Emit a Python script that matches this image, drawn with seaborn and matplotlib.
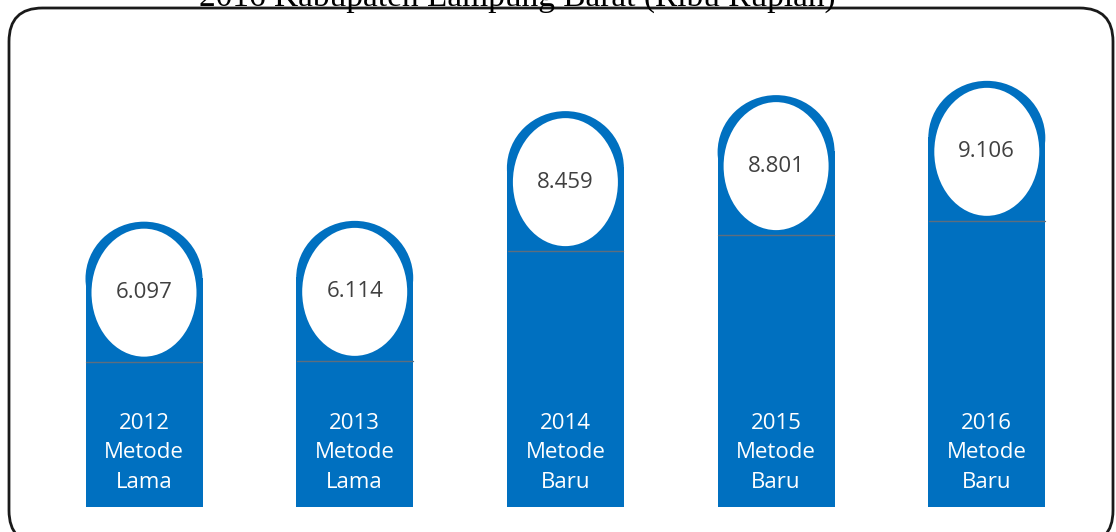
import numpy as np
import pandas as pd
import matplotlib
matplotlib.use("Agg")
import matplotlib.pyplot as plt
import seaborn as sns
from matplotlib.patches import Ellipse, FancyBboxPatch

# data
tahun = ["2012", "2013", "2014", "2015", "2016"]
metode = ["Lama", "Lama", "Baru", "Baru", "Baru"]
nilai = [6.097, 6.114, 8.459, 8.801, 9.106]
judul = "2016 Kabupaten Lampung Barat (Ribu Rupiah)"

BIRU = "#0070C0"

df = pd.DataFrame({"tahun": tahun, "nilai": nilai})

sns.set_style("white")
fig = plt.figure(figsize=(11.16, 5.32), dpi=100)
ax = fig.add_axes([0, 0, 1, 1])

# pixel scale helpers (axes covers whole figure)
px_x = 210.7   # px per category
px_y = 46.8    # px per unit value

sns.barplot(data=df, x="tahun", y="nilai", color=BIRU, width=117 / px_x,
            saturation=1, ax=ax, linewidth=0)
ax.set_xlim(-144 / px_x, (1116 - 144) / px_x)
ax.set_ylim(-25 / px_y, (532 - 25) / px_y)

ry = 57 / px_y
for p, v, th, m in zip(ax.patches, nilai, tahun, metode):
    x0, w = p.get_x(), p.get_width()
    cx = x0 + w / 2
    p.set_height(v - ry + 0.02)
    # dome
    ax.add_patch(Ellipse((cx, v - ry), w, 2 * ry, facecolor=BIRU,
                         edgecolor="none", zorder=p.get_zorder()))
    # separator line
    ax.plot([x0 + 0.003, x0 + w - 0.003], [v - 140 / px_y] * 2,
            color="#5E6E7E", lw=1, zorder=4)
    # white ellipse with value
    ey = v - 71 / px_y
    ax.add_patch(Ellipse((cx, ey), 105 / px_x, 128 / px_y, facecolor="white",
                         edgecolor="none", zorder=5))
    ax.text(cx, ey, f"{v:.3f}", ha="center", va="center", fontsize=16,
            color="#404040", family="Open Sans", zorder=6)
    ax.text(cx, 54 / px_y, f"{th}\nMetode\n{m}", ha="center", va="center",
            fontsize=16, color="white", family="Open Sans", linespacing=1.55,
            zorder=6)

ax.set_axis_off()

# rounded frame (bottom edge runs past the image)
frame = FancyBboxPatch((9 / 1116, -12 / 532), 1104 / 1116, 536 / 532,
                       boxstyle="round,pad=0,rounding_size=0.03",
                       transform=fig.transFigure, facecolor="none",
                       edgecolor="#1a1a1a", lw=2, mutation_aspect=1116 / 532)
fig.patches.append(frame)

# cut-off title
fig.text(517 / 1116, 1 - 6 / 532, judul, ha="center", va="baseline",
         fontsize=24, family="Liberation Serif", color="black")

fig.savefig("out.png", dpi=100)
